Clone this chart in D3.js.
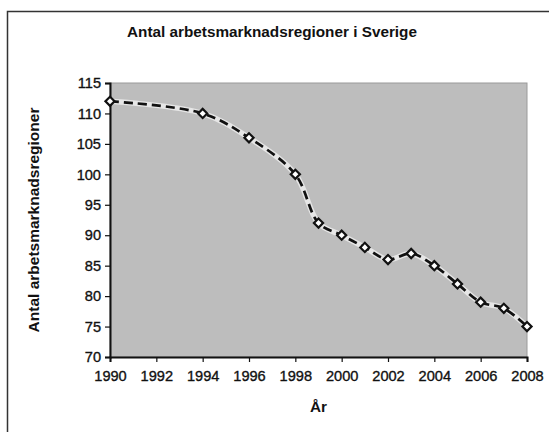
<!DOCTYPE html>
<html>
<head>
<meta charset="utf-8">
<script src="https://cdn.jsdelivr.net/npm/d3@7"></script>
<style>
  html, body { margin: 0; padding: 0; background: #fff; }
  svg { display: block; }
  text { font-family: "Liberation Sans", Arial, Helvetica, sans-serif; fill: #111; }
</style>
</head>
<body>
<svg id="chart" width="549" height="432"></svg>
<script>
const years  = [1990, 1994, 1996, 1998, 1999, 2000, 2001, 2002, 2003, 2004, 2005, 2006, 2007, 2008];
const values = [112, 110, 106, 100, 92, 90, 88, 86, 87, 85, 82, 79, 78, 75];
const xTicks = [1990, 1992, 1994, 1996, 1998, 2000, 2002, 2004, 2006, 2008];
const yTicks = [70, 75, 80, 85, 90, 95, 100, 105, 110, 115];
const title = "Antal arbetsmarknadsregioner i Sverige";
const yTitle = "Antal arbetsmarknadsregioner";
const xTitle = "År";

const svg = d3.select("#chart");
const plot = { left: 110, right: 527, top: 83, bottom: 357 };

// outer frame (extends past the picture on right and bottom)
svg.append("rect")
  .attr("x", 7.5).attr("y", 11.5)
  .attr("width", 560).attr("height", 440)
  .attr("fill", "#fff").attr("stroke", "#333").attr("stroke-width", 1.5);

const x = d3.scaleLinear().domain([1990, 2008]).range([plot.left, plot.right]);
const y = d3.scaleLinear().domain([70, 115]).range([plot.bottom, plot.top]);

// plot area
svg.append("rect")
  .attr("x", plot.left).attr("y", plot.top)
  .attr("width", plot.right - plot.left).attr("height", plot.bottom - plot.top)
  .attr("fill", "#bdbdbd").attr("stroke", "#9a9a9a").attr("stroke-width", 1);

// title
svg.append("text")
  .attr("x", 272).attr("y", 33)
  .attr("text-anchor", "middle")
  .attr("dominant-baseline", "middle")
  .style("font-size", "15.3px").style("font-weight", "bold")
  .text(title);

// axes
const yAxis = d3.axisLeft(y).tickValues(yTicks).tickSize(5).tickPadding(4).tickFormat(d3.format("d"));
const xAxis = d3.axisBottom(x).tickValues(xTicks).tickSize(5).tickPadding(9).tickFormat(d3.format("d"));

const gy = svg.append("g").attr("transform", `translate(${plot.left},0)`).call(yAxis);
const gx = svg.append("g").attr("transform", `translate(0,${plot.bottom})`).call(xAxis);
[gx, gy].forEach(g => {
  g.select(".domain").attr("stroke", "#111").attr("stroke-width", 2);
  g.selectAll(".tick line").attr("stroke", "#111").attr("stroke-width", 1.2);
  g.selectAll(".tick text")
    .style("font-size", "14.6px")
    .style("font-family", "'Liberation Sans', Arial, sans-serif")
    .attr("fill", "#111")
    .attr("stroke", "#111").attr("stroke-width", 0.35);
});

// axis titles
svg.append("text")
  .attr("transform", `translate(35,${(plot.top + plot.bottom) / 2}) rotate(-90)`)
  .attr("text-anchor", "middle")
  .attr("dominant-baseline", "middle")
  .style("font-size", "15.5px").style("font-weight", "bold")
  .text(yTitle);

svg.append("text")
  .attr("x", (plot.left + plot.right) / 2).attr("y", 408)
  .attr("text-anchor", "middle")
  .attr("dominant-baseline", "middle")
  .style("font-size", "15.3px").style("font-weight", "bold")
  .text(xTitle);

// line
const data = years.map((yr, i) => ({ yr, v: values[i] }));
const line = d3.line().x(d => x(d.yr)).y(d => y(d.v)).curve(d3.curveCatmullRom.alpha(0.5));

svg.append("path").datum(data)
  .attr("d", line).attr("fill", "none")
  .attr("stroke", "#e6e6e6").attr("stroke-width", 5.5);

svg.append("path").datum(data)
  .attr("d", line).attr("fill", "none")
  .attr("stroke", "#111").attr("stroke-width", 2.7)
  .attr("stroke-dasharray", "9,5");

// markers
svg.selectAll(".mk").data(data).enter().append("path")
  .attr("class", "mk")
  .attr("transform", d => `translate(${x(d.yr)},${y(d.v)}) rotate(45)`)
  .attr("d", d3.symbol().type(d3.symbolSquare).size(42))
  .attr("fill", "#fff").attr("stroke", "#111").attr("stroke-width", 2.2);
</script>
</body>
</html>
